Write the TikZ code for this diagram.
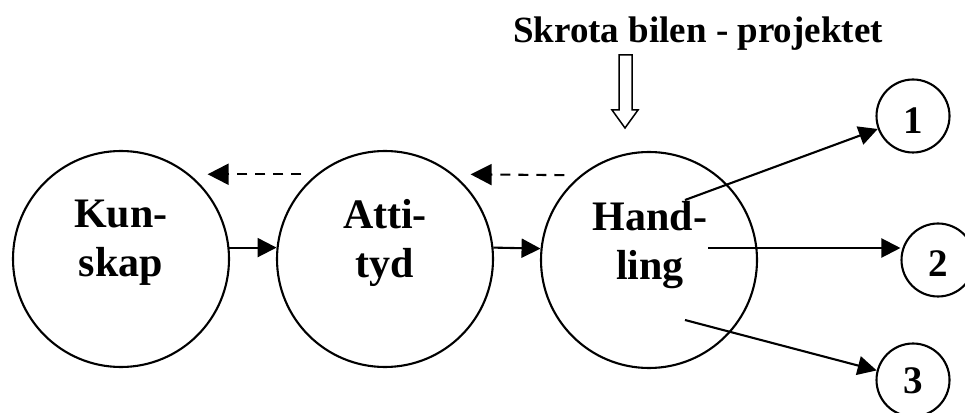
\documentclass[tikz,border=0pt]{standalone}
\usepackage{fontspec}
\setmainfont{Liberation Serif}
\usetikzlibrary{arrows.meta}
\begin{document}
\begin{tikzpicture}[x=1pt,y=1pt,
  bigc/.style={draw,circle,line width=2.1pt,minimum size=216pt,inner sep=0pt},
  smallc/.style={draw,circle,line width=2.1pt,minimum size=73pt,inner sep=0pt},
  bigt/.style={font=\bfseries\fontsize{42}{49}\selectfont,align=center,inner sep=0pt},
  numt/.style={font=\bfseries\fontsize{39}{44}\selectfont,inner sep=0pt,anchor=base},
  solidarr/.style={line width=2.1pt,-{Triangle[length=19pt,width=19pt]}},
  dasharr/.style={line width=2.1pt,dash pattern=on 10pt off 8pt,-{Triangle[length=21pt,width=21pt]}},
]
\useasboundingbox (0,0) rectangle (965,412);
\clip (0,0) rectangle (965,412);
% big circles
\node[bigc] (k) at (121,153) {};
\node[bigc] (a) at (385,153) {};
\node[bigc] (h) at (649,152) {};
\node[bigt] (kt) at (121,169) {Kun-\\skap};
\node[bigt] (at) at (385,169) {Atti-\\tyd};
\node[bigt] (ht) at (650,167) {Hand-\\ling};
% small circles
\node[smallc] (c1) at (913,296) {};
\node[smallc] (c2) at (938,152) {};
\node[smallc] (c3) at (913,32) {};
\node[numt] (n1) at (913,278) {1};
\node[numt] (n2) at (938,135) {2};
\node[numt] (n3) at (913,19) {3};
% title
\node[font=\bfseries\fontsize{37}{44}\selectfont,anchor=base,inner sep=0pt] (title) at (698,369) {Skrota bilen - projektet};
% hollow arrow
\draw[line width=1.5pt,fill=white] (619,357) -- (632,357) -- (632,302) -- (638,302) -- (625,284) -- (612,302) -- (619,302) -- cycle;
% solid arrows between circles
\draw[solidarr] (k.6) -- (a.174);
\draw[solidarr] (a.6) -- (h.174);
% dashed arrows back
\draw[dasharr,shorten <=15pt,shorten >=18pt] (a.129) -- (k.51);
\draw[dasharr,shorten <=16pt,shorten >=17pt] (h.129) -- (a.51);
% outgoing arrows
\coordinate (h1) at (685,212);
\coordinate (h2) at (708,164);
\coordinate (h3) at (685,92);
\draw[solidarr] (h1) -- (c1);
\draw[solidarr] (h2) -- (h2 -| c2.west);
\draw[solidarr] (h3) -- (c3);
\end{tikzpicture}
\end{document}
